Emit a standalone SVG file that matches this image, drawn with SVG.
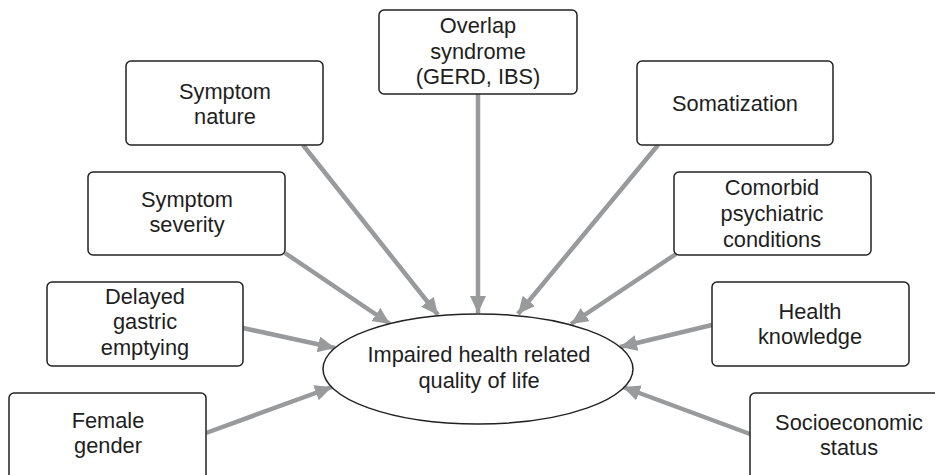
<svg xmlns="http://www.w3.org/2000/svg" width="935" height="475" viewBox="0 0 935 475">
<style>
.box{fill:#fff;stroke:#222;stroke-width:1.5}
.t{font-family:"Liberation Sans",Arial,sans-serif;font-size:21.8px;fill:#1e1e1e;text-anchor:middle}
.c{stroke:#999a9c;stroke-width:4.5;fill:none;marker-end:url(#ah)}
</style>
<defs>
<marker id="ah" markerUnits="userSpaceOnUse" markerWidth="18" markerHeight="18" refX="17" refY="8" orient="auto">
<path d="M0,0 L17,8 L0,16 z" fill="#999a9c"/>
</marker>
</defs>
<rect width="935" height="475" fill="#fff"/>
<g id="connectors">
<line class="c" x1="303" y1="145" x2="438" y2="315"/>
<line class="c" x1="478" y1="94" x2="478" y2="313"/>
<line class="c" x1="658" y1="145" x2="518" y2="314"/>
<line class="c" x1="285" y1="253" x2="390" y2="324"/>
<line class="c" x1="676" y1="254" x2="571" y2="324"/>
<line class="c" x1="243" y1="328" x2="335" y2="348"/>
<line class="c" x1="712" y1="325" x2="620" y2="347"/>
<line class="c" x1="206" y1="433" x2="332" y2="387"/>
<line class="c" x1="750" y1="434" x2="623" y2="387"/>
</g>
<g id="overlap">
<rect class="box" x="379" y="10" width="198" height="84" rx="5"/>
<text class="t" x="478" y="33">Overlap</text>
<text class="t" x="478" y="59">syndrome</text>
<text class="t" x="478" y="84">(GERD, IBS)</text>
</g>
<g id="symptom-nature">
<rect class="box" x="126" y="61" width="197" height="84" rx="5"/>
<text class="t" x="225" y="99">Symptom</text>
<text class="t" x="225" y="124">nature</text>
</g>
<g id="somatization">
<rect class="box" x="637" y="61" width="196" height="84" rx="5"/>
<text class="t" x="735" y="111">Somatization</text>
</g>
<g id="symptom-severity">
<rect class="box" x="88" y="172" width="197" height="83" rx="5"/>
<text class="t" x="187" y="207">Symptom</text>
<text class="t" x="187" y="232">severity</text>
</g>
<g id="comorbid">
<rect class="box" x="674" y="172" width="197" height="83" rx="5"/>
<text class="t" x="772" y="195">Comorbid</text>
<text class="t" x="772" y="221">psychiatric</text>
<text class="t" x="772" y="247">conditions</text>
</g>
<g id="delayed">
<rect class="box" x="47" y="282" width="196" height="84" rx="5"/>
<text class="t" x="145" y="304">Delayed</text>
<text class="t" x="145" y="329">gastric</text>
<text class="t" x="145" y="355">emptying</text>
</g>
<g id="health-knowledge">
<rect class="box" x="712" y="282" width="197" height="84" rx="5"/>
<text class="t" x="810" y="319">Health</text>
<text class="t" x="810" y="344">knowledge</text>
</g>
<g id="female">
<rect class="box" x="9" y="393" width="197" height="90" rx="5"/>
<text class="t" x="108" y="428">Female</text>
<text class="t" x="108" y="453">gender</text>
</g>
<g id="socioeconomic">
<rect class="box" x="750" y="393" width="197" height="90" rx="5"/>
<text class="t" x="849" y="430">Socioeconomic</text>
<text class="t" x="849" y="455">status</text>
</g>
<g id="impaired">
<ellipse cx="478" cy="369" rx="155" ry="55" fill="#fff" stroke="#222" stroke-width="1.5"/>
<text class="t" x="479" y="362">Impaired health related</text>
<text class="t" x="479" y="388">quality of life</text>
</g>
</svg>
